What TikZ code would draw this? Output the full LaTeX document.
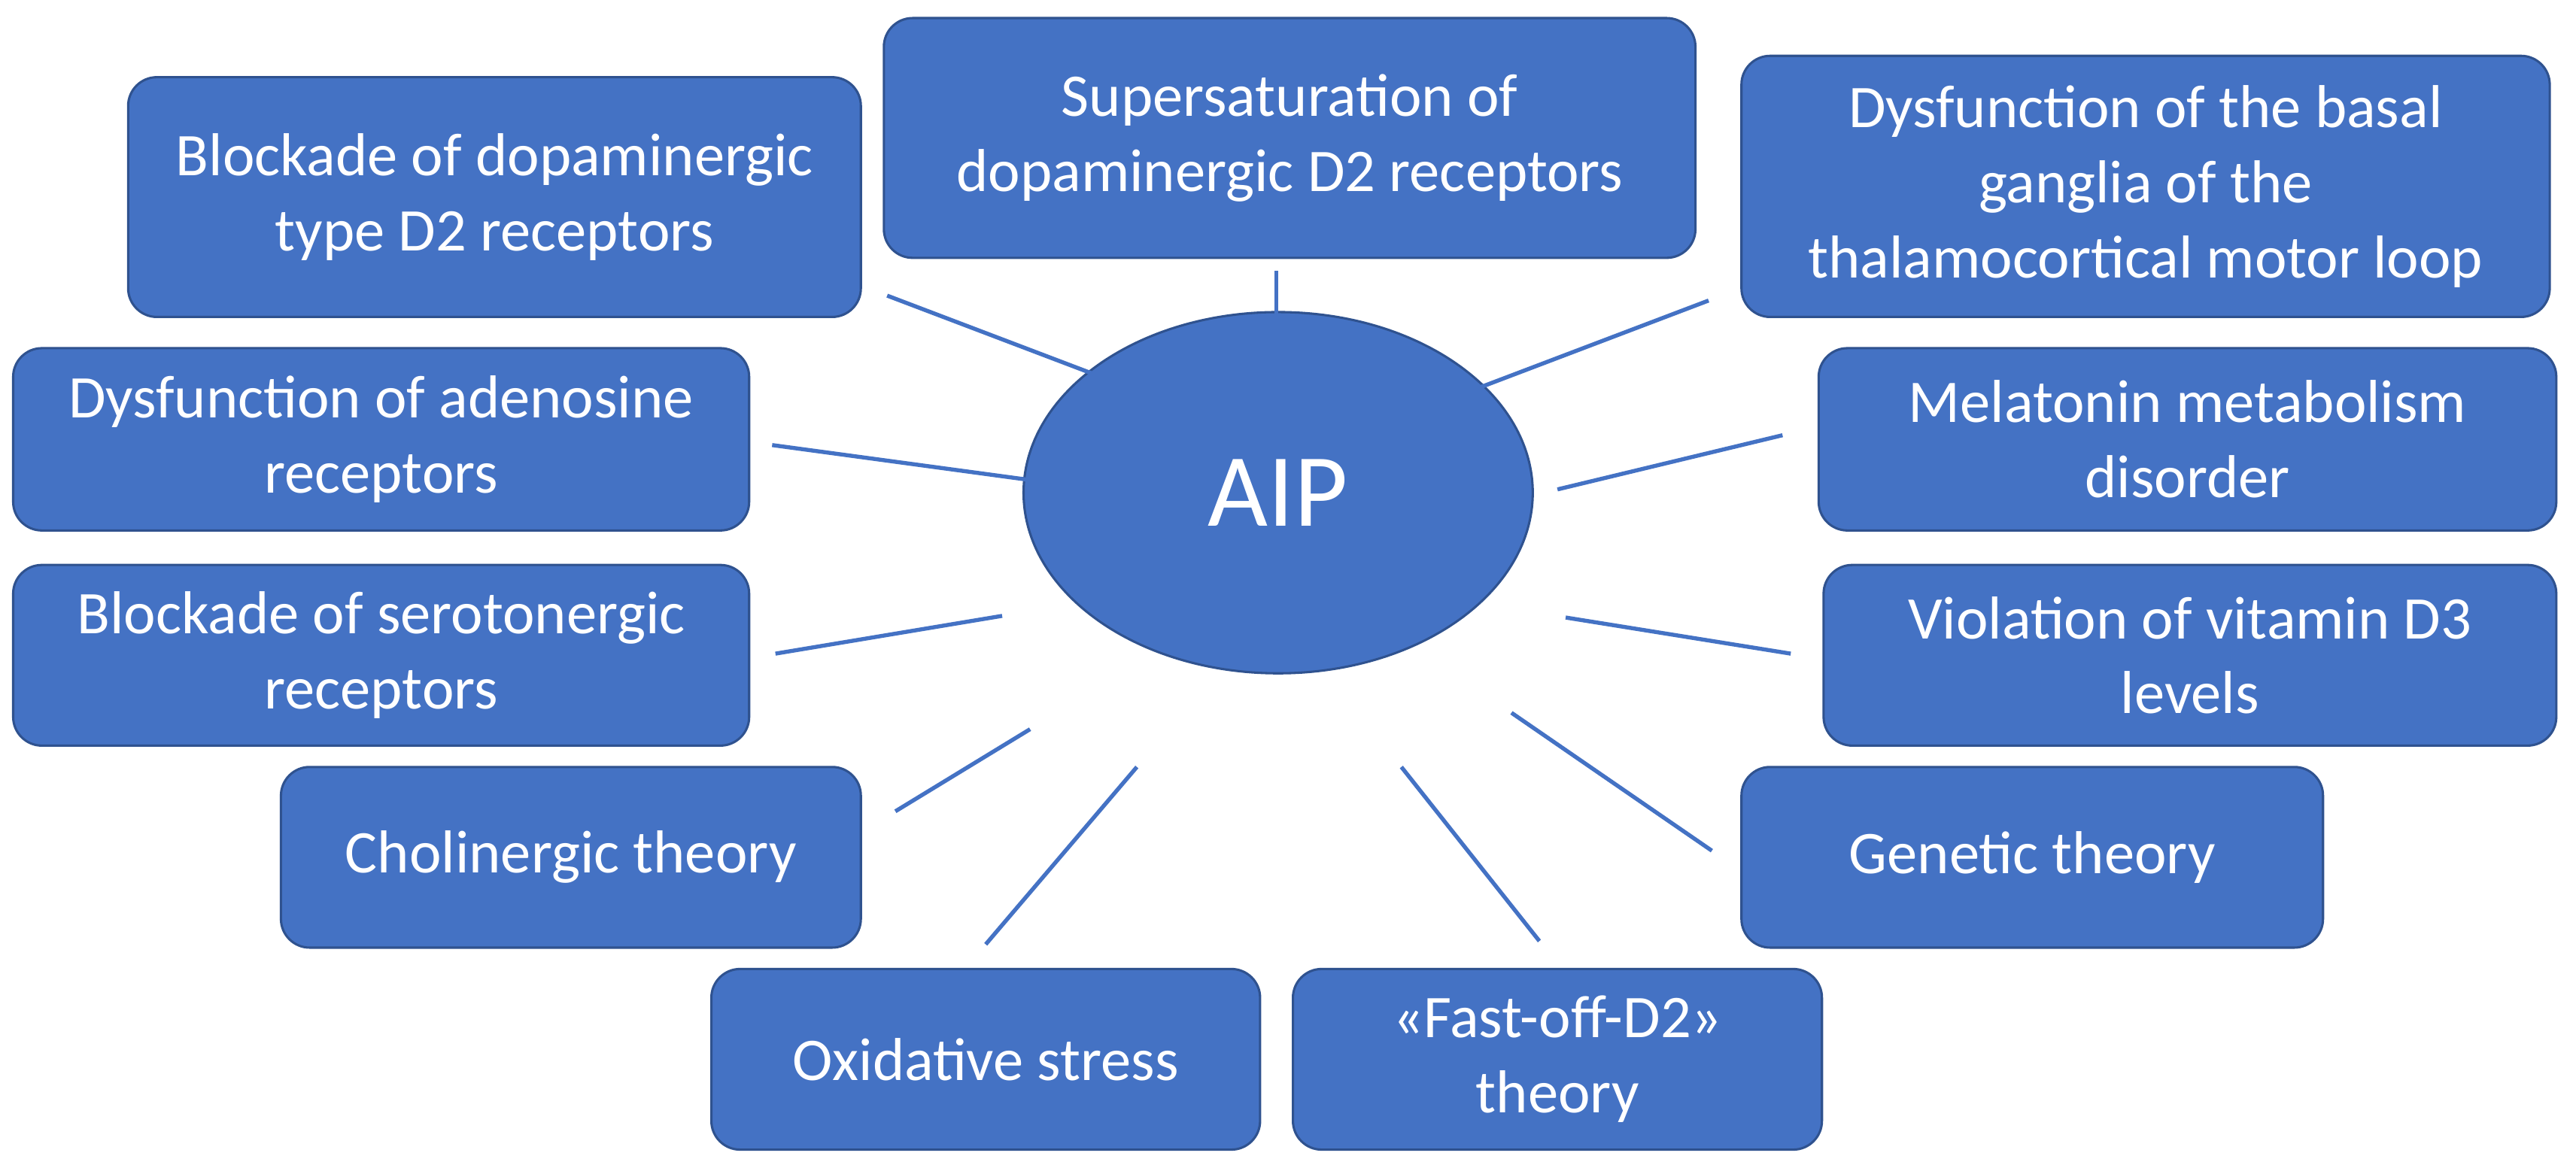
\documentclass[tikz,border=0pt]{standalone}
\usepackage{fontspec}
\setmainfont{Carlito}
\usetikzlibrary{shapes.geometric}
\definecolor{bx}{HTML}{4472C4}
\definecolor{bd}{HTML}{2F528F}
\begin{document}
\begin{tikzpicture}[x=0.02cm,y=-0.02cm,
 box/.style={draw=bd,line width=0.8pt,fill=bx,rounded corners=0.35cm,text=white,align=center,inner sep=0pt,font=\fontsize{21}{26}\selectfont},
 ln/.style={draw=bx,line width=1.4pt}]
\useasboundingbox (0,0) rectangle (1568,713);
\newcommand{\bx}[6]{\node[box,minimum width={(#4-#2)*0.02cm},minimum height={(#5-#3)*0.02cm}] (#1) at ({(#2+#4)/2},{(#3+#5)/2}) {#6};}
\bx{b1}{78}{47}{524}{193}{Blockade of dopaminergic\\type D2 receptors}
\bx{b2}{538}{11}{1032}{157}{Supersaturation of\\dopaminergic D2 receptors}
\bx{b3}{1060}{34}{1552}{193}{Dysfunction of the basal\\ganglia of the\\thalamocortical motor loop}
\bx{b4}{8}{212}{456}{323}{Dysfunction of adenosine\\receptors}
\bx{b5}{1107}{212}{1556}{323}{Melatonin metabolism\\disorder}
\bx{b6}{8}{344}{456}{454}{Blockade of serotonergic\\receptors}
\bx{b7}{1110}{344}{1556}{454}{Violation of vitamin D3\\levels}
\bx{b8}{171}{467}{524}{577}{Cholinergic theory}
\bx{b9}{1060}{467}{1414}{577}{Genetic theory}
\bx{b10}{433}{590}{767}{700}{Oxidative stress}
\bx{b11}{787}{590}{1109}{700}{«Fast-off-D2»\\theory}
\node[ellipse,draw=bd,line width=0.8pt,fill=bx,minimum width=6.2cm,minimum height=4.4cm,text=white,font=\fontsize{36}{40}\selectfont] (aip) at (778,300) {AIP};
\foreach \n/\a/\b/\c/\d in {1/540/180/690/237, 2/777/165/777/218, 3/890/240/1040/183, 4/470/271/625/292, 5/948/298/1085/265, 6/472/398/610/375, 7/953/376/1090/398, 8/545/494/627/444, 9/600/575/692/467, 10/853/467/937/573, 11/920/434/1042/518}{
 \coordinate (s\n) at (\a,\b); \coordinate (e\n) at (\c,\d);
 \draw[ln] (s\n) -- (e\n);}
\end{tikzpicture}
\end{document}
